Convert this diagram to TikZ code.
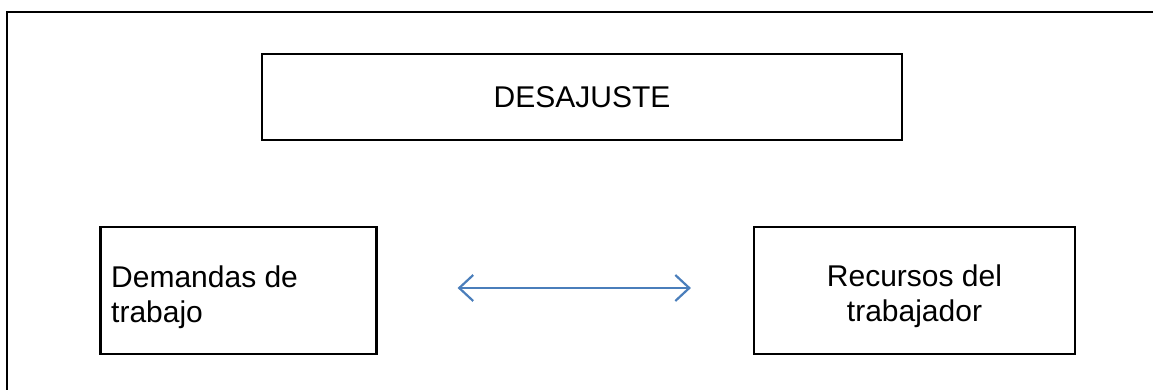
\documentclass[tikz,border=0pt]{standalone}
\usepackage{fontspec}
\setmainfont{Liberation Sans}
\usetikzlibrary{arrows.meta}
\definecolor{arrowblue}{HTML}{4A7EBB}
\tikzset{
  box/.style={draw=black, line width=2.2pt, rectangle, inner sep=0pt},
  lbl/.style={font=\fontsize{30}{35}\selectfont, inner sep=0pt},
  link/.style={draw=arrowblue, line width=2.2pt,
    {Straight Barb[length=14pt,width=26pt,line width=2.2pt]}-{Straight Barb[length=14pt,width=26pt,line width=2.2pt]}}
}
\begin{document}
\begin{tikzpicture}[x=1pt,y=-1pt]
\useasboundingbox (0,0) rectangle (1153,390);
% outer frame (only its top and left sides lie inside the page)
\draw[line width=2.2pt] (7,400) -- (7,12) -- (1160,12);

% boxes
\node[box, minimum width=640pt, minimum height=86pt] (top) at (582,97) {};
\node[box, minimum width=276pt, minimum height=127pt] (dem) at (238.5,290.5) {};
\node[box, minimum width=321pt, minimum height=127pt] (rec) at (914.5,290.5) {};

% texts
\node[lbl, anchor=base] (toptxt) at (582,108) {DESAJUSTE};
\node[lbl, anchor=base west] (dem1) at (111,287) {Demandas de};
\node[lbl, anchor=base west] (dem2) at (111,322) {trabajo};
\node[lbl, anchor=base] (rec1) at (914.5,286) {Recursos del};
\node[lbl, anchor=base] (rec2) at (914.5,321) {trabajador};

% double arrow between the two lower boxes
\coordinate (a1) at ([xshift=80pt,yshift=2.5pt]dem.east);
\coordinate (a2) at ([xshift=-62pt,yshift=2.5pt]rec.west);
\draw[link] (a1) -- (a2);
\end{tikzpicture}
\end{document}
